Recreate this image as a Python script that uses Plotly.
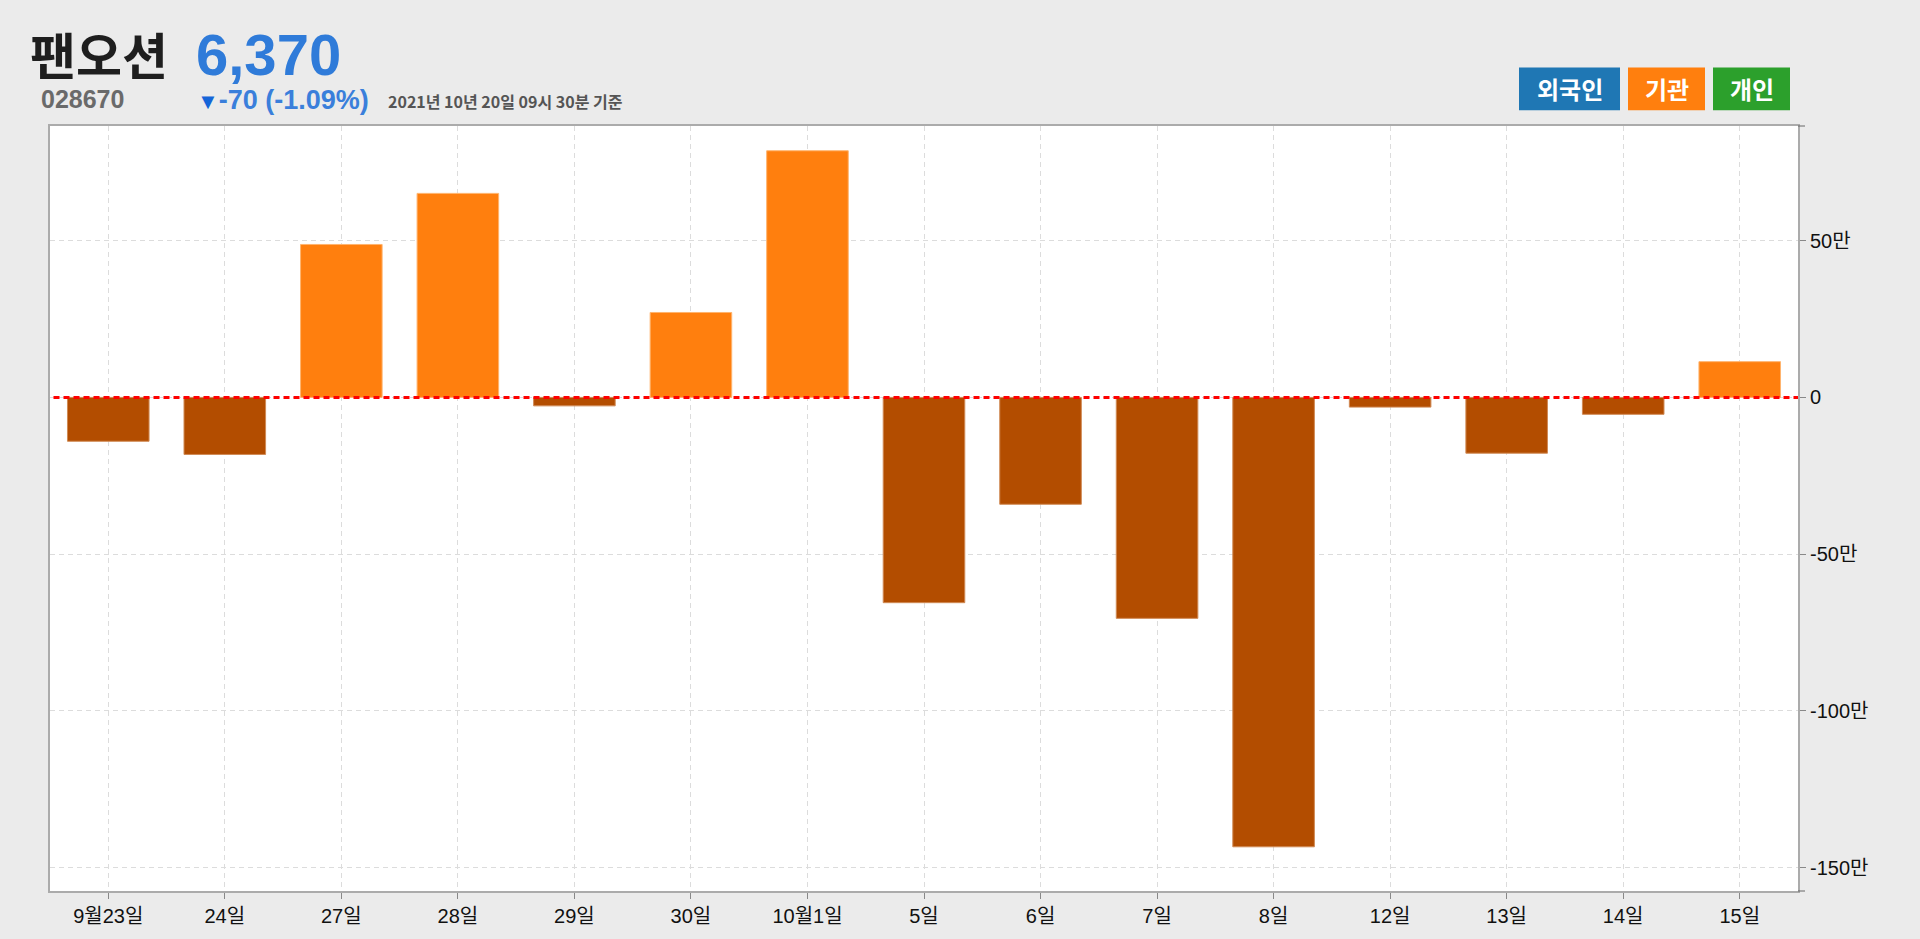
import plotly.graph_objects as go

# ---- data ----
categories = ["9월23일", "24일", "27일", "28일", "29일", "30일", "10월1일", "5일",
              "6일", "7일", "8일", "12일", "13일", "14일", "15일"]
# 기관 순매수 (shares)
institution_net = [-140000, -182000, 488000, 651000, -27000, 271000, 787000, -655000,
                   -341000, -705000, -1434000, -31000, -178000, -54000, 114000]
y_tick_vals = [-1500000, -1000000, -500000, 0, 500000]
y_tick_text = ["-150만", "-100만", "-50만", "0", "50만"]

stock_name = "팬오션"
stock_code = "028670"
price_text = "6,370"
change_text = "-70 (-1.09%)"
time_text = "2021년 10년 20일 09시 30분 기준"
legend_names = ["외국인", "기관", "개인"]
legend_colors = ["#1F77B4", "#FF7F0E", "#2CA02C"]

POS = "#FF7F0E"
NEG = "#B34D00"

W, H = 1920, 939
L, R, T, B = 50, 1798, 126, 899


def px(x):
    return (x - L) / (R - L)


def py(y):
    return (B - y) / (B - T)


colors = [POS if v >= 0 else NEG for v in institution_net]
lines = ["#FFB46E" if v >= 0 else "#D08A55" for v in institution_net]

fig = go.Figure()
fig.add_trace(go.Bar(
    x=categories, y=institution_net, width=0.7,
    marker=dict(color=colors, line=dict(color=lines, width=1)),
    hoverinfo="x+y", showlegend=False,
))

font_tick = dict(family="Liberation Sans, Noto Sans CJK KR", size=20, color="#111")
grid = dict(showgrid=True, gridcolor="#DCDCDC", gridwidth=1, griddash="5px,4px")

fig.update_layout(
    width=W, height=H,
    margin=dict(l=L, r=W - R, t=T, b=H - B),
    paper_bgcolor="#EBEBEB", plot_bgcolor="#FFFFFF",
    bargap=0.3,
    xaxis=dict(type="category", range=[-0.5, 14.5], ticks="outside", ticklen=6,
               tickcolor="#888", showline=True, linecolor="#ABABAB", linewidth=2,
               mirror=True, tickfont=font_tick, zeroline=False, **grid),
    yaxis=dict(side="right", range=[-1575000, 866000], tickvals=y_tick_vals,
               ticktext=y_tick_text, ticks="outside", ticklen=6, tickcolor="#888",
               showline=True, linecolor="#ABABAB", linewidth=2, mirror=True,
               tickfont=font_tick, zeroline=False, **grid),
)

# red dotted zero line
fig.add_shape(type="line", xref="paper", yref="y", x0=0.002, x1=1, y0=0, y1=0,
              line=dict(color="#FF0000", width=3, dash="6px,4px"), layer="above")
# outer end ticks of y axis
for yy in (T, B):
    fig.add_shape(type="line", xref="paper", yref="paper", x0=1, x1=px(R + 7),
                  y0=py(yy), y1=py(yy), line=dict(color="#666", width=1))

DIG = "Liberation Sans, Noto Sans CJK KR"
ann = []
ann.append(dict(text=f"<b>{stock_name}</b>", x=px(28), y=py(52), xanchor="left", yanchor="middle",
                font=dict(family="Noto Sans CJK KR", size=50, color="#1E1E1E")))
ann.append(dict(text=f"<b>{price_text}</b>", x=px(194), y=py(54), xanchor="left", yanchor="middle",
                font=dict(family=DIG, size=58, color="#2F7BD9")))
ann.append(dict(text=f"<b>{stock_code}</b>", x=px(39), y=py(99), xanchor="left", yanchor="middle",
                font=dict(family=DIG, size=25, color="#6A6A6A")))
ann.append(dict(text=f"<b><span style='color:#1565D8;font-size:22px'>▼</span>{change_text}</b>",
                x=px(195), y=py(100), xanchor="left", yanchor="middle",
                font=dict(family=DIG, size=27, color="#3A7FDB")))
ann.append(dict(text=f"<b>{time_text}</b>", x=px(386), y=py(101), xanchor="left", yanchor="middle",
                font=dict(family="Noto Sans CJK KR", size=16, color="#555555")))

btns = [(1519, 1620), (1628, 1705), (1713, 1790)]
for (x0, x1), name, col in zip(btns, legend_names, legend_colors):
    fig.add_shape(type="rect", xref="paper", yref="paper", x0=px(x0), x1=px(x1),
                  y0=py(110), y1=py(67), fillcolor=col, line=dict(width=0))
    ann.append(dict(text=f"<b>{name}</b>", x=px((x0 + x1) / 2), y=py(88.5), xanchor="center",
                    yanchor="middle", font=dict(family="Noto Sans CJK KR", size=24, color="#FFFFFF")))

for a in ann:
    a.update(xref="paper", yref="paper", showarrow=False)
fig.update_layout(annotations=ann)

fig.write_html(
    "out.html",
    config={"displayModeBar": False},
    post_script="document.body.style.margin='0';document.body.style.overflow='hidden';"
                "document.body.style.background='#EBEBEB';",
)
